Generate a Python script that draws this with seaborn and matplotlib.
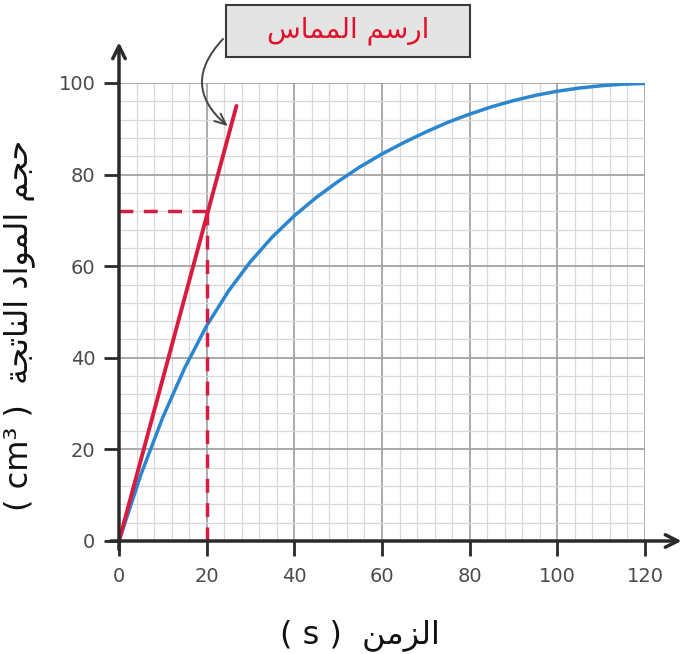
import numpy as np
import pandas as pd
import matplotlib
matplotlib.use("Agg")
import matplotlib.pyplot as plt
from matplotlib.patches import Rectangle
import seaborn as sns

# ---- data ----
time_s = [0, 5, 10, 15, 20, 25, 30, 35, 40, 45, 50, 55, 60, 65, 70, 75, 80,
          85, 90, 95, 100, 105, 110, 115, 120]
volume_cm3 = [0, 14.5, 27, 37.8, 47, 54.6, 61, 66.4, 71, 75, 78.5, 81.7, 84.5,
              87, 89.3, 91.4, 93.2, 94.8, 96.15, 97.3, 98.2, 98.9, 99.4, 99.75, 99.9]
tangent_t = [0, 26.8]
tangent_v = [0, 95]
read_t = 20
read_v = 72
x_ticks = [0, 20, 40, 60, 80, 100, 120]
y_ticks = [0, 20, 40, 60, 80, 100]

# Arabic text in visual (presentation-form) order
box_text = "\uFEB1\uFE8E\uFEE4\uFEE4\uFEDF\uFE8D \uFEE2\uFEB3\uFEAD\uFE8D"  # ارسم المماس
ylabel_text = ("( cm\u00b3 )  " + "\uFE94\uFEA0\uFE97\uFE8E\uFEE8\uFEDF\uFE8D" + " "
               + "\uFEA9\uFE8D\uFEEE\uFEE4\uFEDF\uFE8D" + " " + "\uFEE2\uFEA0\uFEA3")
xlabel_text = "( s )  " + "\uFEE6\uFEE3\uFEB0\uFEDF\uFE8D"  # الزمن ( s )

sns.set_style("white")
plt.rcParams['font.family'] = ['DejaVu Sans']

BLUE = "#2a86cf"
RED = "#d81c3f"
DARK = "#2a2a2a"

fig = plt.figure(figsize=(6.91, 6.54), dpi=100)
ax = fig.add_axes([0.1722, 0.1728, 0.7612, 0.7003])
ax.set_xlim(0, 120)
ax.set_ylim(0, 100)

# grid
ax.set_xticks(np.arange(0, 121, 4), minor=True)
ax.set_yticks(np.arange(0, 101, 4), minor=True)
ax.set_xticks(x_ticks)
ax.set_yticks(y_ticks)
ax.grid(which="minor", color="#d8d8d8", lw=0.9)
ax.grid(which="major", color="#9c9c9c", lw=1.2)
ax.set_axisbelow(True)
for s in ax.spines.values():
    s.set_visible(False)

df_curve = pd.DataFrame({"t": time_s, "v": volume_cm3})
sns.lineplot(data=df_curve, x="t", y="v", ax=ax, color=BLUE, lw=2.5, zorder=3)
df_tan = pd.DataFrame({"t": tangent_t, "v": tangent_v})
sns.lineplot(data=df_tan, x="t", y="v", ax=ax, color=RED, lw=2.8, zorder=4)

ax.plot([0, read_t], [read_v, read_v], color=RED, lw=2.5, ls=(0, (4, 3)), zorder=4)
ax.plot([read_t, read_t], [read_v, 0], color=RED, lw=2.5, ls=(0, (4, 3)), zorder=4)

# axes with arrows
ax.annotate("", xy=(129, 0), xytext=(-2.5, 0), xycoords="data",
            arrowprops=dict(arrowstyle="->,head_length=0.9,head_width=0.45",
                            color=DARK, lw=2.5), annotation_clip=False, zorder=5)
ax.annotate("", xy=(0, 109.5), xytext=(0, -2.5), xycoords="data",
            arrowprops=dict(arrowstyle="->,head_length=0.9,head_width=0.45",
                            color=DARK, lw=2.5), annotation_clip=False, zorder=5)

ax.tick_params(axis="both", which="major", length=11, width=2, color=DARK,
               labelsize=14, labelcolor="#4a4a4a", pad=6, direction="out",
               bottom=True, left=True)
ax.tick_params(axis="x", which="major", pad=8)
ax.tick_params(axis="both", which="minor", length=0)

ax.set_xlabel(xlabel_text, fontsize=23, color="#111111")
ax.set_ylabel(ylabel_text, fontsize=23, color="#111111")
ax.xaxis.set_label_coords(0.458, -0.17)
ax.yaxis.set_label_coords(-0.16, 0.47)

# annotation box
bx0, by0, bw, bh = 226 / 691, 1 - 57 / 654, 244 / 691, 52 / 654
fig.patches.append(Rectangle((bx0, by0), bw, bh, transform=fig.transFigure,
                             facecolor="#e4e4e4", edgecolor="#3a3a3a", lw=1.5,
                             zorder=6))
fig.text(bx0 + bw / 2, by0 + bh / 2, box_text, color="#e0102a", fontsize=20,
         ha="center", va="center", zorder=7)

ax.annotate("", xy=(25.3, 90.2), xycoords="data",
            xytext=(225 / 691, 1 - 37 / 654), textcoords="figure fraction",
            arrowprops=dict(arrowstyle="->,head_length=0.8,head_width=0.35",
                            color="#444444", lw=1.4,
                            connectionstyle="arc3,rad=0.55"),
            annotation_clip=False, zorder=6)

fig.savefig("out.png", dpi=100)
